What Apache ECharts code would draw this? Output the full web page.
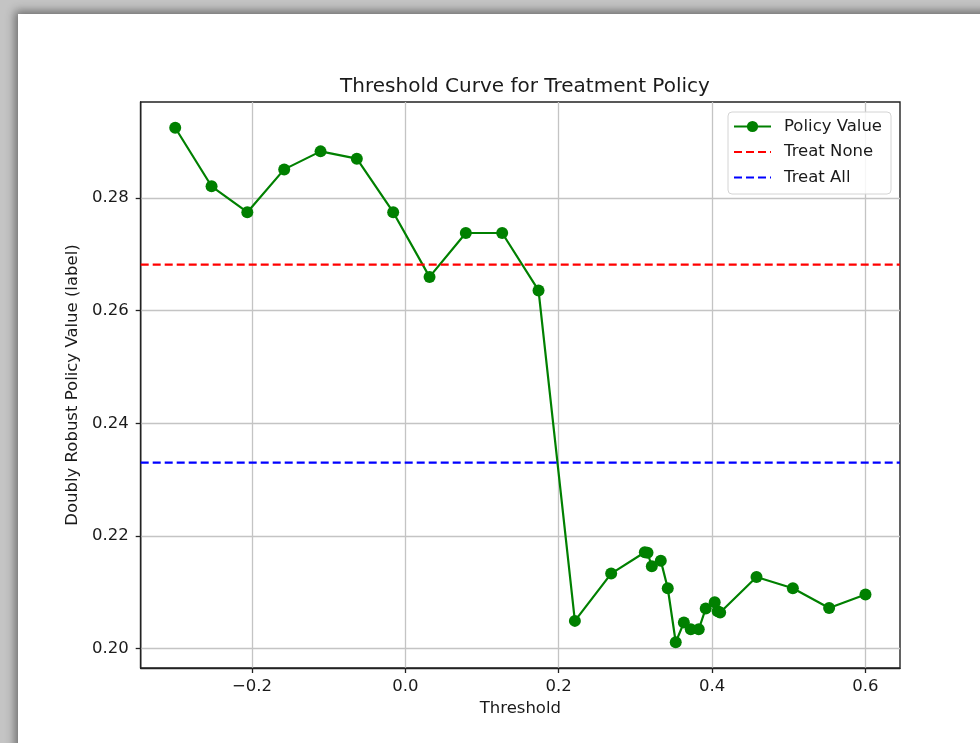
<!DOCTYPE html>
<html><head><meta charset="utf-8">
<script src="https://cdn.jsdelivr.net/npm/echarts@6/dist/echarts.min.js"></script>
<style>
html,body{margin:0;padding:0;width:980px;height:743px;overflow:hidden;background:#c4c4c4;}
#card{position:absolute;left:18px;top:14px;width:1000px;height:780px;background:#fff;box-shadow:0 0 9px 3px rgba(0,0,0,0.45);}
#chart{position:absolute;left:0;top:0;width:980px;height:743px;}
</style></head><body><div id="card"></div><div id="chart"></div>
<script>
const thresholds = [-0.300, -0.2526, -0.2060, -0.1579, -0.1105, -0.0632, -0.0158, 0.0316, 0.0789, 0.1263,
  0.1737, 0.2211, 0.2684, 0.3123, 0.3158, 0.3214, 0.3331, 0.3422, 0.3526, 0.3632,
  0.3722, 0.3826, 0.3917, 0.4034, 0.4073, 0.4105, 0.4579, 0.5053, 0.5526, 0.600];
const policyValues = [0.2925, 0.2821, 0.2775, 0.2851, 0.2883, 0.2870, 0.2775, 0.2660, 0.2738, 0.2738,
  0.2636, 0.2049, 0.2133, 0.2171, 0.2170, 0.2146, 0.2156, 0.2107, 0.2011, 0.2046,
  0.2034, 0.2034, 0.2071, 0.2082, 0.2066, 0.2064, 0.2127, 0.2107, 0.2072, 0.2096];
const treatNoneValue = 0.2682;
const treatAllValue = 0.2330;
const xTicks = [-0.2, 0.0, 0.2, 0.4, 0.6];
const yTicks = [0.20, 0.22, 0.24, 0.26, 0.28];
const seriesNames = ['Policy Value', 'Treat None', 'Treat All'];

function padExtent(arr) {
  const lo = Math.min(...arr), hi = Math.max(...arr);
  const m = (hi - lo) * 0.05;
  return [lo - m, hi + m];
}
const xExt = padExtent(thresholds);
const yExt = padExtent(policyValues);

const policyData = thresholds.map((t, i) => [t, policyValues[i]]);
const noneData = [[xExt[0], treatNoneValue], [xExt[1], treatNoneValue]];
const allData = [[xExt[0], treatAllValue], [xExt[1], treatAllValue]];

const FONT = 'DejaVu Sans';
const TXT = '#1a1a1a';
const hiddenSymbol = {color: 'rgba(0,0,0,0)', borderWidth: 0, opacity: 0};
const chart = echarts.init(document.getElementById('chart'), null, {renderer: 'canvas'});
chart.setOption({
  animation: false,
  backgroundColor: 'transparent',
  title: {
    text: 'Threshold Curve for Treatment Policy',
    left: 520, top: 72, textAlign: 'center',
    textStyle: {fontFamily: FONT, fontSize: 20, fontWeight: 'normal', color: TXT}
  },
  grid: {left: 140.7, right: 80, top: 102, bottom: 75, show: true, borderColor: '#222', borderWidth: 1.4, backgroundColor: 'transparent'},
  legend: {
    orient: 'vertical', left: 728, top: 112,
    padding: [6, 9, 8, 5], itemWidth: 37, itemHeight: 14, itemGap: 8.5,
    borderColor: '#d4d4d4', borderWidth: 1, borderRadius: 4, backgroundColor: 'rgba(255,255,255,0.85)',
    textStyle: {fontFamily: FONT, fontSize: 16.5, color: TXT, padding: [0, 0, 0, 8]},
    data: [
      {name: seriesNames[0]},
      {name: seriesNames[1], itemStyle: hiddenSymbol},
      {name: seriesNames[2], itemStyle: hiddenSymbol}
    ]
  },
  xAxis: {
    type: 'value', min: xExt[0], max: xExt[1],
    name: 'Threshold', nameLocation: 'middle', nameGap: 32,
    nameTextStyle: {fontFamily: FONT, fontSize: 16.5, color: TXT},
    axisLine: {show: true, onZero: false, lineStyle: {color: '#222', width: 1.4}},
    axisTick: {show: true, length: 5, customValues: xTicks, lineStyle: {color: '#222', width: 1.3}},
    axisLabel: {customValues: xTicks, margin: 10, fontFamily: FONT, fontSize: 16.5, color: TXT,
      formatter: v => (v < -1e-9 ? '\u2212' : '') + Math.abs(v).toFixed(1)},
    splitLine: {show: true, lineStyle: {color: '#c4c4c4', width: 1.3}}
  },
  yAxis: {
    type: 'value', min: yExt[0], max: yExt[1],
    name: 'Doubly Robust Policy Value (label)', nameLocation: 'middle', nameGap: 53,
    nameTextStyle: {fontFamily: FONT, fontSize: 16.5, color: TXT},
    axisLine: {show: true, onZero: false, lineStyle: {color: '#222', width: 1.4}},
    axisTick: {show: true, length: 5, customValues: yTicks, lineStyle: {color: '#222', width: 1.3}},
    axisLabel: {customValues: yTicks, margin: 12, fontFamily: FONT, fontSize: 16.5, color: TXT,
      formatter: v => v.toFixed(2)},
    splitLine: {show: true, lineStyle: {color: '#c4c4c4', width: 1.3}}
  },
  series: [
    {name: seriesNames[0], type: 'line', data: policyData, symbol: 'circle', symbolSize: 12,
     itemStyle: {color: '#008000'}, lineStyle: {color: '#008000', width: 2.2}, z: 3},
    {name: seriesNames[1], type: 'line', data: noneData, symbol: 'none',
     itemStyle: {color: '#ff0000'}, lineStyle: {color: '#ff0000', width: 2.2, type: [8, 4]}, z: 4},
    {name: seriesNames[2], type: 'line', data: allData, symbol: 'none',
     itemStyle: {color: '#0000ff'}, lineStyle: {color: '#0000ff', width: 2.2, type: [8, 4]}, z: 4}
  ]
});
</script></body></html>
